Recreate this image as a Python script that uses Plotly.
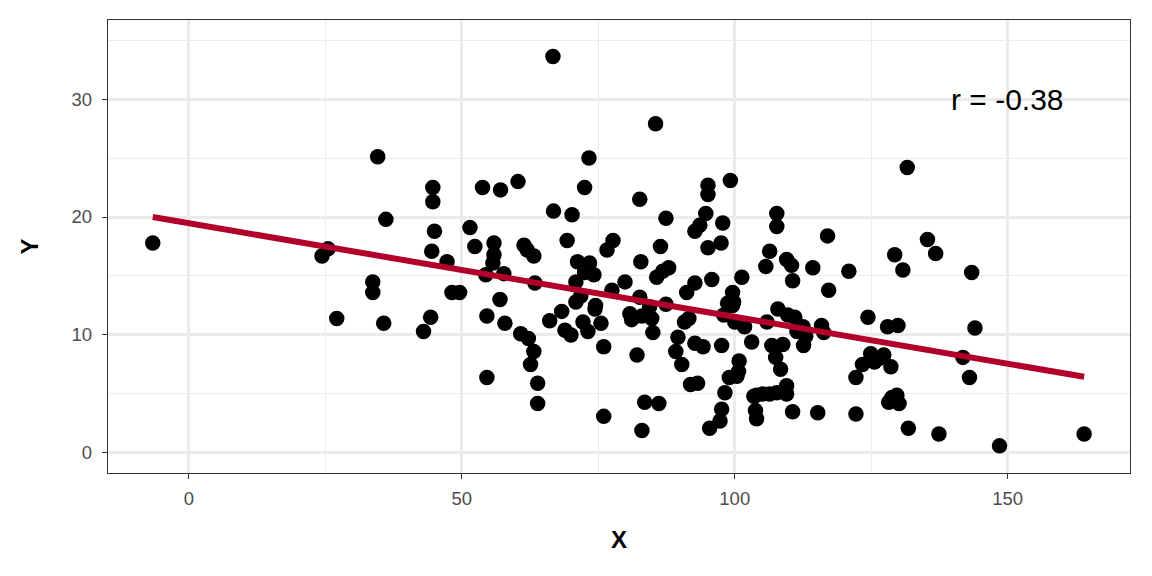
import numpy as np
import plotly.graph_objects as go

x_vals = [-6.6, 24.4, 25.5, 27.1, 33.7, 33.7, 34.6, 35.7, 36.1, 43.0,
          44.3, 44.7, 44.7, 44.5, 45.0, 47.3, 48.2, 49.6, 51.5, 52.4,
          53.8, 54.4, 54.6, 54.6, 55.7, 55.9, 55.9, 57.1, 57.0, 57.7,
          57.9, 60.3, 60.8, 61.4, 62.0, 62.2, 62.6, 63.2, 63.4, 63.2,
          63.9, 63.9, 66.1, 66.8, 66.7, 68.3, 68.9, 69.3, 70.0, 70.2,
          70.9, 70.9, 71.2, 72.2, 71.8, 72.5, 72.5, 73.3, 73.4, 73.1,
          74.2, 74.5, 74.4, 75.5, 76.0, 76.0, 76.6, 77.7, 77.5, 79.9,
          80.8, 81.1, 82.1, 82.6, 82.6, 82.8, 83.0, 83.5, 83.0, 84.4,
          84.8, 85.0, 85.5, 85.7, 86.1, 86.4, 86.8, 87.4, 87.4, 87.9,
          89.2, 89.6, 90.3, 90.8, 91.2, 91.6, 91.9, 92.7, 92.7, 92.7,
          93.2, 93.6, 94.2, 94.7, 95.1, 95.1, 95.1, 95.4, 95.8, 97.5,
          97.3, 97.6, 97.6, 98.2, 98.0, 97.8, 98.7, 99.0, 99.2, 99.6,
          99.8, 99.6, 100.0, 100.4, 100.8, 100.7, 101.3, 101.8, 103.1, 103.5,
          103.8, 104.0, 104.0, 105.1, 105.7, 105.9, 106.4, 106.4, 106.8, 107.5,
          107.7, 107.7, 107.7, 107.9, 108.4, 108.8, 109.5, 109.5, 109.5, 109.7,
          110.4, 110.6, 110.6, 111.0, 111.4, 112.5, 112.6, 113.0, 114.3, 115.2,
          115.9, 116.3, 117.0, 117.2, 120.9, 122.2, 122.2, 123.4, 124.4, 124.9,
          125.6, 126.4, 127.3, 128.0, 128.2, 128.6, 128.8, 129.3, 129.7, 129.9,
          130.1, 130.8, 131.6, 131.8, 135.3, 136.8, 141.8, 137.4, 143.4, 143.0,
          144.0, 148.5, 164.0]

y_vals = [17.8, 16.7, 17.3, 11.4, 14.5, 13.6, 25.1, 11.0, 19.8, 10.3,
          11.5, 22.5, 21.3, 17.1, 18.8, 16.2, 13.6, 13.6, 19.1, 17.5,
          22.5, 15.1, 11.6, 6.4, 16.1, 16.8, 17.8, 22.3, 13.0, 15.2,
          11.0, 23.0, 10.1, 17.6, 17.2, 9.7, 7.5, 8.6, 14.4, 16.7,
          5.9, 4.2, 11.2, 20.5, 33.6, 12.0, 10.4, 18.0, 10.0, 20.2,
          14.5, 12.8, 16.2, 11.1, 13.3, 22.5, 15.3, 25.0, 16.1, 10.3,
          15.1, 12.5, 12.2, 11.0, 9.0, 3.1, 17.2, 18.0, 13.8, 14.5,
          11.8, 11.3, 8.3, 13.2, 21.5, 16.2, 11.6, 4.3, 1.9, 12.4,
          11.4, 10.2, 27.9, 14.9, 4.2, 17.5, 15.4, 19.9, 12.6, 15.7,
          8.6, 9.8, 7.5, 11.1, 13.6, 11.4, 5.8, 14.4, 9.3, 18.8,
          5.9, 19.3, 9.0, 20.3, 22.7, 21.9, 17.4, 2.1, 14.7, 17.8,
          2.7, 3.7, 9.1, 5.1, 11.7, 19.5, 12.7, 6.4, 23.1, 13.6,
          12.8, 12.5, 11.1, 6.5, 7.8, 6.9, 14.9, 10.7, 9.4, 4.8,
          3.6, 2.9, 4.9, 5.0, 15.8, 11.1, 5.0, 17.1, 9.1, 8.1,
          5.1, 20.3, 19.2, 12.2, 7.1, 9.2, 5.7, 5.0, 16.4, 11.7,
          15.9, 14.6, 3.5, 11.5, 10.3, 10.7, 9.1, 9.9, 15.7, 3.4,
          10.8, 10.2, 18.4, 13.8, 15.4, 3.3, 6.4, 7.5, 11.5, 8.4,
          7.7, 8.0, 8.3, 10.7, 4.3, 7.3, 4.7, 16.8, 4.9, 10.8,
          4.2, 15.5, 24.2, 2.1, 18.1, 16.9, 8.1, 1.6, 15.3, 6.4,
          10.6, 0.6, 1.6]

x_ticks = [0, 50, 100, 150]
y_ticks = [0, 10, 20, 30]
r_label = "r = -0.38"

xa = np.array(x_vals)
ya = np.array(y_vals)
slope, intercept = np.polyfit(xa, ya, 1)
line_x = [xa.min(), xa.max()]
line_y = [intercept + slope * v for v in line_x]

FONT = "Liberation Sans, Arial, Helvetica, sans-serif"

fig = go.Figure()
fig.add_trace(go.Scatter(x=x_vals, y=y_vals, mode="markers",
                         marker=dict(color="black", size=15.5, line=dict(width=0)),
                         showlegend=False, hoverinfo="skip"))
fig.add_trace(go.Scatter(x=line_x, y=line_y, mode="lines",
                         line=dict(color="#B2002B", width=6),
                         showlegend=False, hoverinfo="skip"))

fig.add_annotation(x=150, y=30, text=r_label, showarrow=False,
                   font=dict(family=FONT, size=30, color="black"),
                   xanchor="center", yanchor="middle")

axis_common = dict(
    showline=True, mirror=True, linecolor="#333333", linewidth=1.4,
    ticks="outside", ticklen=5, tickwidth=1.3, tickcolor="#333333",
    showgrid=True, gridcolor="#EBEBEB", gridwidth=2.5,
    zeroline=False,
    tickfont=dict(family=FONT, size=18.5, color="#4D4D4D"),
)

fig.update_xaxes(range=[-14.8, 172.4], tickvals=x_ticks,
                 minor=dict(showgrid=True, gridcolor="#EBEBEB", gridwidth=1.3,
                            tick0=25, dtick=50, ticks=""),
                 ticklabelstandoff=4,
                 title=dict(text="<b>X</b>", font=dict(family=FONT, size=24, color="black"),
                            standoff=22),
                 **axis_common)
fig.update_yaxes(range=[-1.7, 36.7], tickvals=y_ticks,
                 minor=dict(showgrid=True, gridcolor="#EBEBEB", gridwidth=1.3,
                            tick0=5, dtick=10, ticks=""),
                 ticklabelstandoff=6,
                 title=dict(text="<b>Y</b>", font=dict(family=FONT, size=24, color="black"),
                            standoff=26),
                 **axis_common)

fig.update_layout(width=1152, height=576,
                  margin=dict(l=100, r=30, t=12, b=111, autoexpand=False),
                  plot_bgcolor="white", paper_bgcolor="white")

fig.write_html("out.html")
